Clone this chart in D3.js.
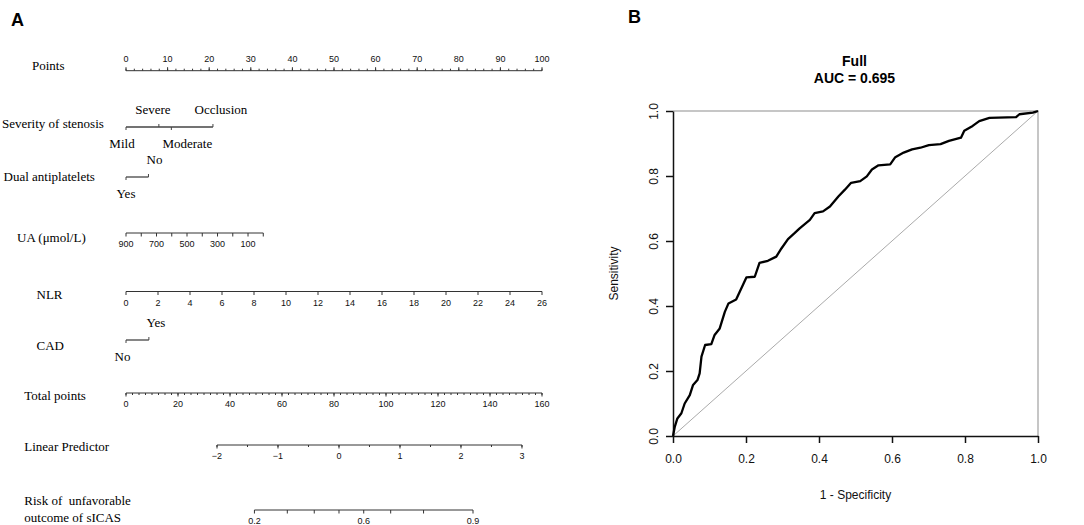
<!DOCTYPE html>
<html>
<head>
<meta charset="utf-8">
<script src="https://cdn.jsdelivr.net/npm/d3@7/dist/d3.min.js"></script>
<style>
  html, body { margin: 0; padding: 0; background: #fff; }
  svg { display: block; }
  text { white-space: pre; }
</style>
</head>
<body>
<svg id="chart" width="1084" height="525"></svg>
<script>
// ---------------- DATA ----------------
// Nomogram (panel A)
const pointsTicks = [0, 10, 20, 30, 40, 50, 60, 70, 80, 90, 100];
const pointsMinorStep = 2;

const severityLevels = ["Mild", "Severe", "Moderate", "Occlusion"];
const severityPoints = [0, 7.9, 10.9, 20.9];

const dualLevels = ["Yes", "No"];
const dualPoints = [0, 5.4];

const uaTicks = [900, 800, 700, 600, 500, 400, 300, 200, 100, 0];
const uaLabels = [900, 700, 500, 300, 100];
const uaPointsAtZero = 33;   // points given to UA = 0

const nlrTicks = [0, 2, 4, 6, 8, 10, 12, 14, 16, 18, 20, 22, 24, 26];
const nlrPointsAtMax = 100;

const cadLevels = ["No", "Yes"];
const cadPoints = [0, 5.5];

const totalTicks = [0, 20, 40, 60, 80, 100, 120, 140, 160];
const totalMinorStep = 2.5;

const lpTicks = [-2, -1, 0, 1, 2, 3];
const lpMinorStep = 0.5;
const lpTotalAtMin = 35;     // total points at LP = -2
const lpTotalAtMax = 152.3;  // total points at LP = 3

const riskTicks = [0.2, 0.3, 0.4, 0.5, 0.6, 0.7, 0.8, 0.9];
const riskLabels = [0.2, 0.6, 0.9];

// ROC (panel B)
const rocFpr = [0, 0.005, 0.012, 0.023, 0.032, 0.046, 0.055, 0.067, 0.073, 0.078,
                0.088, 0.105, 0.114, 0.128, 0.142, 0.152, 0.173, 0.187, 0.201, 0.224,
                0.237, 0.260, 0.283, 0.297, 0.315, 0.333, 0.347, 0.375, 0.388, 0.411,
                0.430, 0.453, 0.471, 0.488, 0.513, 0.531, 0.545, 0.563, 0.595, 0.609,
                0.632, 0.655, 0.678, 0.701, 0.733, 0.756, 0.789, 0.798, 0.821, 0.839,
                0.867, 0.940, 0.949, 0.986, 1.000];
const rocTpr = [0, 0.029, 0.054, 0.070, 0.100, 0.126, 0.157, 0.172, 0.193, 0.244,
                0.280, 0.283, 0.311, 0.331, 0.382, 0.408, 0.420, 0.454, 0.488, 0.490,
                0.533, 0.539, 0.552, 0.577, 0.606, 0.624, 0.639, 0.665, 0.686, 0.691,
                0.706, 0.737, 0.758, 0.779, 0.784, 0.799, 0.820, 0.833, 0.836, 0.858,
                0.872, 0.882, 0.887, 0.895, 0.898, 0.908, 0.918, 0.939, 0.954, 0.969,
                0.979, 0.981, 0.990, 0.995, 1.000];
const rocTicks = [0, 0.2, 0.4, 0.6, 0.8, 1.0];
const rocTitle = "Full";
const rocAuc = "AUC = 0.695";

// ---------------- LAYOUT ----------------
const W = 1084, H = 525;
const serif = "'Liberation Serif', 'Times New Roman', serif";
const sans = "'Liberation Sans', Arial, sans-serif";
const svg = d3.select("#chart");
svg.append("rect").attr("width", W).attr("height", H).attr("fill", "#fff");

const nomo = { x0: 126, x1: 542 };
const rows = {
  points: 70.7, severity: 127, dual: 177, ua: 233, nlr: 291.5,
  cad: 340, total: 393, lp: 445, risk: 510
};
const axisColor = "#333";
const tickFont = 9;

// scales
const xPts = d3.scaleLinear().domain([0, 100]).range([nomo.x0, nomo.x1]);
const xTotal = d3.scaleLinear().domain([0, 160]).range([nomo.x0, nomo.x1]);
const xUA = d3.scaleLinear().domain([900, 0]).range([xPts(0), xPts(uaPointsAtZero)]);
const xNLR = d3.scaleLinear().domain([0, 26]).range([xPts(0), xPts(nlrPointsAtMax)]);
const xLP = d3.scaleLinear().domain([-2, 3]).range([xTotal(lpTotalAtMin), xTotal(lpTotalAtMax)]);
const logit = p => Math.log(p / (1 - p));
const xRisk = p => xLP(logit(p));

const gA = svg.append("g");

function rowLabel(lines, x, baseline) {
  const t = gA.append("text").attr("x", x).attr("y", baseline)
    .attr("font-family", serif).attr("font-size", 13).attr("fill", "#000")
    .attr("xml:space", "preserve");
  lines.forEach((ln, i) => {
    t.append("tspan").attr("x", x).attr("dy", i === 0 ? 0 : 16.5).text(ln);
  });
}

// generic continuous axis: dir = -1 ticks up (labels above), +1 ticks down
function contAxis(y, scale, domainEnds, ticks, labelSet, minorTicks, dir, fmt, majorLen, minorLen, labelOff) {
  const g = gA.append("g");
  g.append("line").attr("x1", scale(domainEnds[0])).attr("x2", scale(domainEnds[1]))
    .attr("y1", y).attr("y2", y).attr("stroke", axisColor).attr("stroke-width", 1);
  minorTicks.forEach(v => {
    g.append("line").attr("x1", scale(v)).attr("x2", scale(v))
      .attr("y1", y).attr("y2", y + dir * minorLen)
      .attr("stroke", axisColor).attr("stroke-width", 1);
  });
  ticks.forEach(v => {
    g.append("line").attr("x1", scale(v)).attr("x2", scale(v))
      .attr("y1", y).attr("y2", y + dir * majorLen)
      .attr("stroke", axisColor).attr("stroke-width", 1);
  });
  labelSet.forEach(v => {
    g.append("text").attr("x", scale(v)).attr("y", dir < 0 ? y - labelOff : y + labelOff)
      .attr("text-anchor", "middle").attr("font-family", sans).attr("font-size", tickFont)
      .attr("fill", "#111").text(fmt(v));
  });
}

// categorical axis: ticks point toward their label
function catAxis(y, levels, pts, above, dxs) {
  const g = gA.append("g");
  const xs = pts.map(p => xPts(p));
  g.append("line").attr("x1", d3.min(xs)).attr("x2", d3.max(xs))
    .attr("y1", y).attr("y2", y).attr("stroke", "#444").attr("stroke-width", 1.3);
  levels.forEach((lv, i) => {
    const d = above[i] ? -1 : 1;
    g.append("line").attr("x1", xs[i]).attr("x2", xs[i])
      .attr("y1", y).attr("y2", y + d * 3).attr("stroke", "#444").attr("stroke-width", 1);
    g.append("text").attr("x", xs[i] + dxs[i]).attr("y", above[i] ? y - 13 : y + 21)
      .attr("text-anchor", "middle").attr("font-family", serif).attr("font-size", 13)
      .attr("fill", "#000").text(lv);
  });
}

const rangeStep = (a, b, s) => d3.range(0, Math.round((b - a) / s) + 1).map(i => +(a + i * s).toFixed(4));

// Points
rowLabel(["Points"], 32, 70);
contAxis(rows.points, xPts, [0, 100], pointsTicks, pointsTicks,
  rangeStep(0, 100, pointsMinorStep), -1, d => d, 3.5, 2, 8.5);

// Severity of stenosis
rowLabel(["Severity of stenosis"], 2, 128);
catAxis(rows.severity, severityLevels, severityPoints, [false, true, false, true], [-4, -6, 16, 8]);

// Dual antiplatelets
rowLabel(["Dual antiplatelets"], 3.5, 181);
catAxis(rows.dual, dualLevels, dualPoints, [false, true], [0, 6]);

// UA
rowLabel(["UA (\u03bcmol/L)"], 17, 242);
contAxis(rows.ua, xUA, [900, 0], uaTicks, uaLabels, [], 1, d => d, 3.5, 2, 13.5);

// NLR
rowLabel(["NLR"], 36.5, 299);
contAxis(rows.nlr, xNLR, [0, 26], nlrTicks, nlrTicks, [], 1, d => d, 3.5, 2, 14.5);

// CAD
rowLabel(["CAD"], 36.5, 350);
catAxis(rows.cad, cadLevels, cadPoints, [false, true], [-3.5, 7]);

// Total points
rowLabel(["Total points"], 24.3, 400);
contAxis(rows.total, xTotal, [0, 160], totalTicks, totalTicks,
  rangeStep(0, 160, totalMinorStep), 1, d => d, 3.5, 2, 14);

// Linear Predictor
rowLabel(["Linear Predictor"], 24.3, 451);
contAxis(rows.lp, xLP, [-2, 3], lpTicks, lpTicks,
  rangeStep(-2, 3, lpMinorStep), 1, d => (d < 0 ? "\u2212" + Math.abs(d) : String(d)), 3.5, 2, 13.5);

// Risk
rowLabel(["Risk of \u00a0unfavorable", "outcome of sICAS"], 24.3, 505);
(function () {
  const g = gA.append("g");
  const y = rows.risk;
  g.append("line").attr("x1", xRisk(riskTicks[0])).attr("x2", xRisk(riskTicks[riskTicks.length - 1]))
    .attr("y1", y).attr("y2", y).attr("stroke", axisColor).attr("stroke-width", 1);
  riskTicks.forEach(v => {
    g.append("line").attr("x1", xRisk(v)).attr("x2", xRisk(v))
      .attr("y1", y).attr("y2", y + 3.5).attr("stroke", axisColor).attr("stroke-width", 1);
  });
  riskLabels.forEach(v => {
    g.append("text").attr("x", xRisk(v)).attr("y", y + 14)
      .attr("text-anchor", "middle").attr("font-family", sans).attr("font-size", tickFont)
      .attr("fill", "#111").text(v);
  });
})();

// Panel letters
svg.append("text").attr("x", 11).attr("y", 26).attr("font-family", sans)
  .attr("font-weight", "bold").attr("font-size", 18).text("A");
svg.append("text").attr("x", 628).attr("y", 23).attr("font-family", sans)
  .attr("font-weight", "bold").attr("font-size", 18).text("B");

// ---------------- ROC (panel B) ----------------
const roc = { x0: 673, x1: 1038, y0: 436, y1: 111 };
const xR = d3.scaleLinear().domain([0, 1]).range([roc.x0, roc.x1]);
const yR = d3.scaleLinear().domain([0, 1]).range([roc.y0, roc.y1]);
const gB = svg.append("g");

// grey box (top & right)
gB.append("path")
  .attr("d", `M${xR(0)},${yR(1)}H${xR(1)}V${yR(0)}`)
  .attr("fill", "none").attr("stroke", "#b4b4b4").attr("stroke-width", 1.5);

// diagonal
gB.append("line").attr("x1", xR(0)).attr("y1", yR(0)).attr("x2", xR(1)).attr("y2", yR(1))
  .attr("stroke", "#aaaaaa").attr("stroke-width", 1);

// axes
const xAxis = d3.axisBottom(xR).tickValues(rocTicks).tickFormat(d3.format(".1f"))
  .tickSize(7).tickSizeOuter(0).tickPadding(11);
const gx = gB.append("g").attr("transform", `translate(0,${roc.y0})`).call(xAxis);
gx.selectAll("text").attr("font-family", sans).attr("font-size", 12).attr("fill", "#111");
gx.selectAll("line, path").attr("stroke", "#111").attr("stroke-width", 1.5);

const yAxis = d3.axisLeft(yR).tickValues(rocTicks).tickFormat(d3.format(".1f"))
  .tickSize(7).tickSizeOuter(0);
const gy = gB.append("g").attr("transform", `translate(${roc.x0},0)`).call(yAxis);
gy.selectAll("line, path").attr("stroke", "#111").attr("stroke-width", 1.5);
gy.selectAll("text")
  .attr("x", null).attr("dy", null).attr("y", null)
  .attr("text-anchor", "middle")
  .attr("transform", "translate(-15.5,0) rotate(-90)")
  .attr("font-family", sans).attr("font-size", 12).attr("fill", "#111");

// ROC curve
const rocData = rocFpr.map((f, i) => [f, rocTpr[i]]);
gB.append("path").datum(rocData)
  .attr("d", d3.line().x(d => xR(d[0])).y(d => yR(d[1])))
  .attr("fill", "none").attr("stroke", "#000").attr("stroke-width", 2.3)
  .attr("stroke-linejoin", "round");

// titles
const cx = (roc.x0 + roc.x1) / 2;
gB.append("text").attr("x", cx - 1).attr("y", 66).attr("text-anchor", "middle")
  .attr("font-family", sans).attr("font-weight", "bold").attr("font-size", 14).text(rocTitle);
gB.append("text").attr("x", cx - 1).attr("y", 83).attr("text-anchor", "middle")
  .attr("font-family", sans).attr("font-weight", "bold").attr("font-size", 14).text(rocAuc);
gB.append("text").attr("x", cx).attr("y", 499).attr("text-anchor", "middle")
  .attr("font-family", sans).attr("font-size", 12).attr("fill", "#111").text("1 - Specificity");
gB.append("text").attr("transform", `translate(617.5,${(roc.y0 + roc.y1) / 2}) rotate(-90)`)
  .attr("text-anchor", "middle").attr("font-family", sans).attr("font-size", 12)
  .attr("fill", "#111").text("Sensitivity");
</script>
</body>
</html>
